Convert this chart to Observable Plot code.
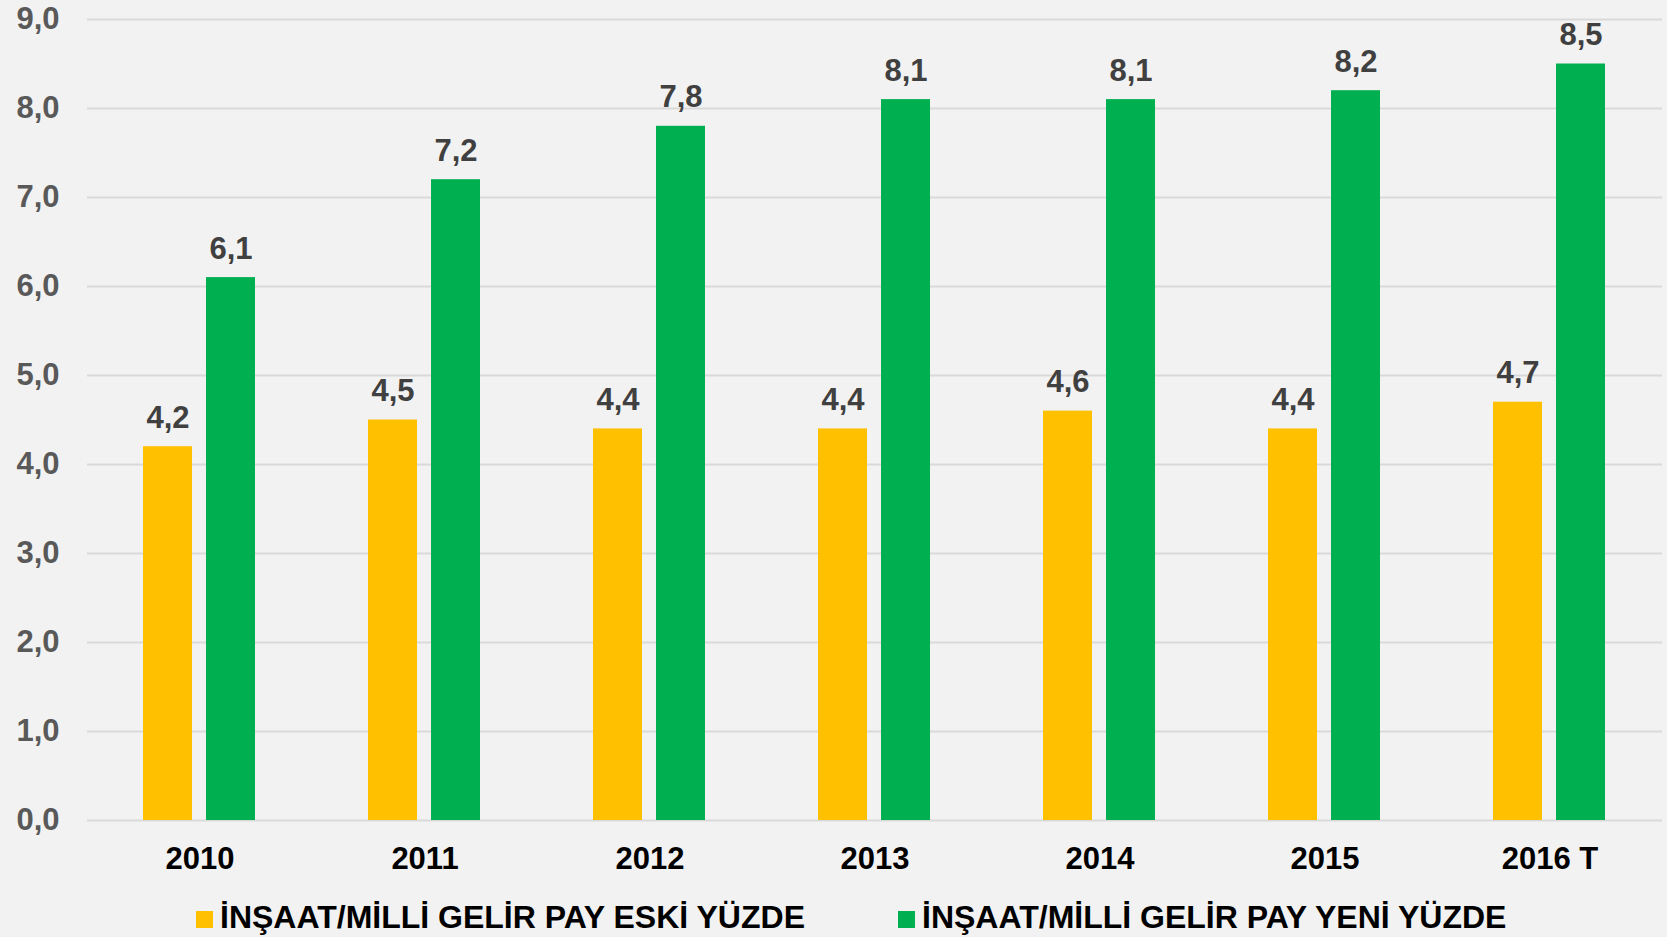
<!DOCTYPE html>
<html>
<head>
<meta charset="utf-8">
<script src="https://cdn.jsdelivr.net/npm/d3@7"></script>
<script src="https://cdn.jsdelivr.net/npm/@observablehq/plot@0.6"></script>
<style>
  html, body { margin: 0; padding: 0; background: #f2f2f2; }
  body { width: 1667px; height: 937px; overflow: hidden; font-family: Arial, "Liberation Sans", sans-serif; }
  #legend { position: relative; height: 52px; }
  .item { position: absolute; top: 6px; height: 52px; display: flex; align-items: center; font-weight: bold; font-size: 32px; color: #000; white-space: nowrap; }
  .sw { width: 17px; height: 17px; margin-right: 7px; margin-top: 4px; }
</style>
</head>
<body>
<div id="chart"></div>
<div id="legend"></div>
<script>
const years = ["2010", "2011", "2012", "2013", "2014", "2015", "2016 T"];
const seriesNames = ["İNŞAAT/MİLLİ GELİR PAY ESKİ YÜZDE", "İNŞAAT/MİLLİ GELİR PAY YENİ YÜZDE"];
const eski = [4.2, 4.5, 4.4, 4.4, 4.6, 4.4, 4.7];
const yeni = [6.1, 7.2, 7.8, 8.1, 8.1, 8.2, 8.5];
const colors = ["#FFC000", "#00B050"];
const yTicks = [0, 1, 2, 3, 4, 5, 6, 7, 8, 9];

const data = [];
years.forEach((y, i) => {
  data.push({year: y, series: seriesNames[0], value: eski[i]});
  data.push({year: y, series: seriesNames[1], value: yeni[i]});
});
const fmt = d => d.toFixed(1).replace(".", ",");

const chart = Plot.plot({
  width: 1667,
  height: 885,
  marginTop: 19,
  marginBottom: 65,
  marginLeft: 86,
  marginRight: 4,
  style: {background: "#f2f2f2", fontFamily: "Arial, 'Liberation Sans', sans-serif"},
  fx: {domain: years, padding: 0, label: null},
  x: {domain: seriesNames, paddingInner: 0.21875, paddingOuter: 0.87, axis: null},
  y: {domain: [0, 9], label: null},
  color: {domain: seriesNames, range: colors},
  marks: [
    Plot.gridY({ticks: yTicks, stroke: "#d9d9d9", strokeOpacity: 1, strokeWidth: 2}),
    Plot.axisY({ticks: yTicks, tickFormat: fmt, tickSize: 0, tickPadding: 28, fontSize: 31, fontWeight: "bold", fill: "#595959", label: null}),
    Plot.axisFx({anchor: "bottom", tickSize: 0, tickPadding: 26, fontSize: 31, fontWeight: "bold", fill: "#000", label: null}),
    Plot.barY(data, {fx: "year", x: "series", y: "value", fill: "series"}),
    Plot.text(data, {fx: "year", x: "series", y: "value", text: d => fmt(d.value), lineAnchor: "bottom", dy: -19, fontSize: 31, fontWeight: "bold", fill: "#404040"})
  ]
});
document.getElementById("chart").appendChild(chart);

const legend = document.getElementById("legend");
const lefts = [196, 898];
seriesNames.forEach((s, i) => {
  const it = document.createElement("div");
  it.className = "item";
  it.style.left = lefts[i] + "px";
  const sw = document.createElement("span");
  sw.className = "sw";
  sw.style.background = colors[i];
  const t = document.createElement("span");
  t.textContent = s;
  it.appendChild(sw);
  it.appendChild(t);
  legend.appendChild(it);
});
</script>
</body>
</html>
